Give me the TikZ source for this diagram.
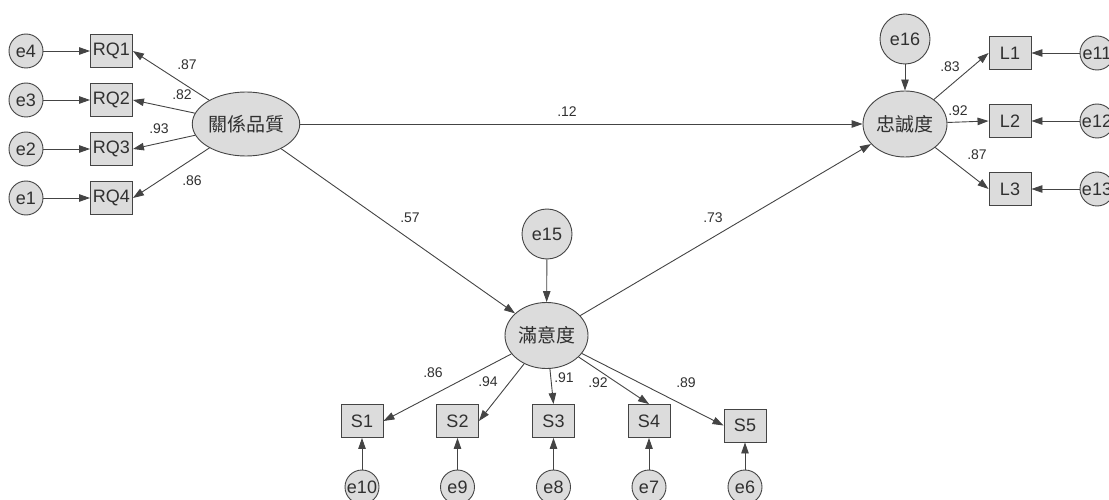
\documentclass[tikz,border=0pt]{standalone}
\usepackage{fontspec}
\setmainfont{Liberation Sans}
\newfontfamily\cjk{Noto Sans CJK TC}
\usetikzlibrary{arrows.meta,shapes.geometric}

\definecolor{linec}{HTML}{444444}
\definecolor{shapefill}{HTML}{DCDCDC}
\definecolor{textc}{HTML}{303030}

\tikzset{
  base/.style={draw=linec, line width=0.9pt, fill=shapefill, text=textc, inner sep=0pt},
  obs/.style={base, rectangle, minimum width=42pt, minimum height=33pt,
    font=\fontsize{18}{18}\selectfont},
  err/.style={base, circle, minimum size=34pt, font=\fontsize{18}{18}\selectfont},
  bigerr/.style={err, minimum size=50pt},
  latent/.style={base, ellipse, minimum width=83pt, minimum height=64pt,
    font=\cjk\fontsize{19}{19}\selectfont},
  link/.style={draw=linec, line width=0.9pt, -{Triangle[length=11pt,width=7.5pt]}},
  coef/.style={text=textc, inner sep=0pt, font=\fontsize{14}{14}\selectfont},
}

\begin{document}
\begin{tikzpicture}[x=1pt,y=-1pt]
\useasboundingbox (0,0) rectangle (1109,500);

% latent variables
\node[latent] (rq)  at (246,124)   {關係品質};
\node[latent, minimum width=84pt, minimum height=66pt] (loy) at (905,124) {忠誠度};
\node[latent, minimum height=66pt] (sat) at (546.5,335.5) {滿意度};

% relationship-quality indicators
\foreach \i/\e/\y in {1/4/51, 2/3/100, 3/2/149, 4/1/198} {
  \node[obs] (RQ\i) at (111.5,\y) {RQ\i};
  \node[err] (e\e) at (26,\y) {e\e};
}

% loyalty indicators
\foreach \i/\e/\y in {1/11/53, 2/12/121, 3/13/189} {
  \node[obs] (L\i) at (1010,\y) {L\i};
  \node[err] (e\e) at (1097,\y) {e\e};
}

% satisfaction indicators
\foreach \i/\e/\x/\y in {1/10/362/421, 2/9/457.5/421, 3/8/553.5/421, 4/7/649/421, 5/6/745/425.5} {
  \node[obs] (S\i) at (\x,\y) {S\i};
  \node[err] (e\e) at (\x,487) {e\e};
}

% structural disturbances
\node[bigerr] (e16) at (905,39)  {e16};
\node[bigerr] (e15) at (547,234) {e15};

% measurement paths
\foreach \i/\e in {1/4, 2/3, 3/2, 4/1} {
  \draw[link] (e\e) -- (RQ\i.west);
  \draw[link] (rq) -- (RQ\i.east);
}
\foreach \i/\e in {1/11, 2/12, 3/13} {
  \draw[link] (e\e) -- (L\i.east);
  \draw[link] (loy) -- (L\i.west);
}
\foreach \i/\e in {1/10, 2/9, 3/8, 4/7, 5/6} {
  \draw[link] (e\e) -- (S\i.south);
}
\draw[link] (sat) -- (S1.east);
\draw[link] (sat) -- (S2.east);
\draw[link] (sat) -- (S3.north);
\draw[link] (sat) -- (S4.north);
\draw[link] (sat) -- (S5.west);

% structural paths
\draw[link] (rq) -- (loy);
\draw[link] (rq) -- (sat);
\draw[link] (sat) -- (loy);
\draw[link] (e16) -- (loy);
\draw[link] (e15) -- (sat);

% standardized coefficients
\node[coef] (c1) at (187,65)  {.87};
\node[coef] (c2) at (182,95)  {.82};
\node[coef] (c3) at (159,129) {.93};
\node[coef] (c4) at (192,181) {.86};
\node[coef] (c5) at (567,112) {.12};
\node[coef] (c6) at (410,218) {.57};
\node[coef] (c7) at (713,218) {.73};
\node[coef] (c8) at (950,67)  {.83};
\node[coef] (c9) at (958,111) {.92};
\node[coef] (c10) at (977,155) {.87};
\node[coef] (c11) at (433,373) {.86};
\node[coef] (c12) at (488,382) {.94};
\node[coef] (c13) at (564,378) {.91};
\node[coef] (c14) at (598,383) {.92};
\node[coef] (c15) at (686,383) {.89};
\end{tikzpicture}
\end{document}
